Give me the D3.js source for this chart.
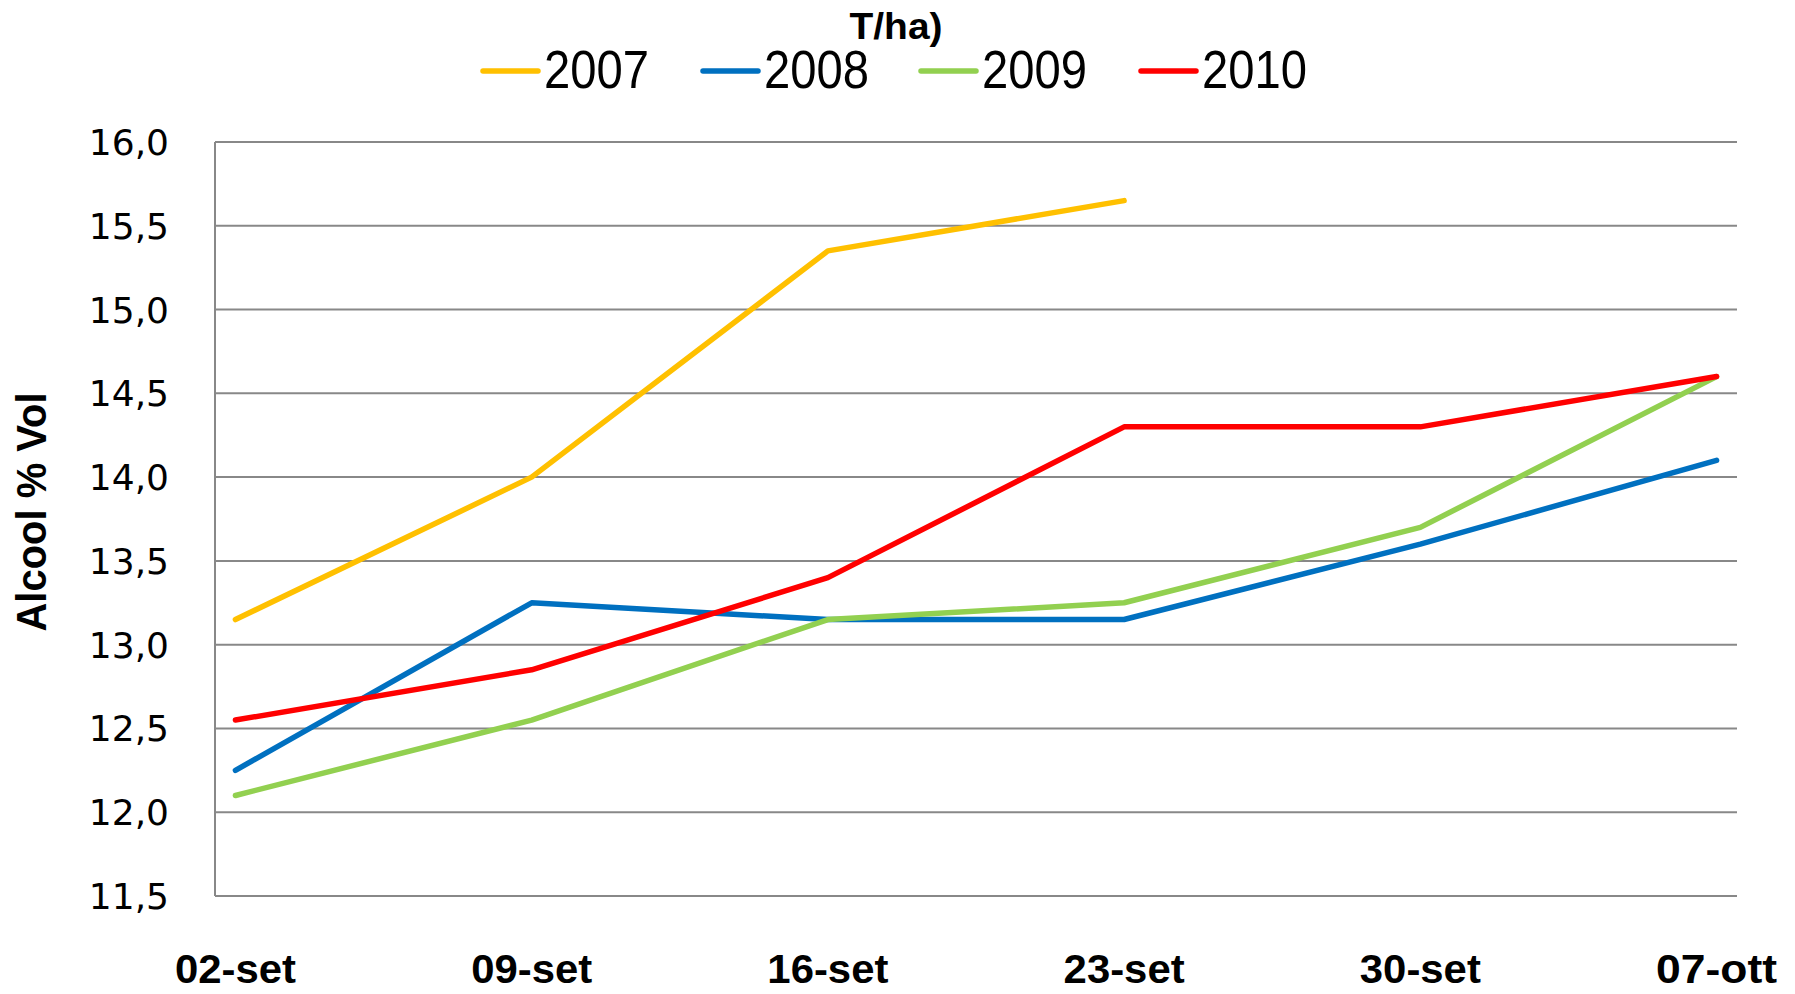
<!DOCTYPE html>
<html><head><meta charset="utf-8">
<script src="https://cdn.jsdelivr.net/npm/d3@7"></script>
<style>body{margin:0;background:#fff;} svg{display:block;}</style>
</head><body>
<script>
const categories = ["02-set","09-set","16-set","23-set","30-set","07-ott"];
const seriesNames = ["2007","2008","2009","2010"];
const seriesColors = ["#FFC000","#0070C0","#92D050","#FF0000"];
const v2007 = [13.15, 14.0, 15.35, 15.65, null, null];
const v2008 = [12.25, 13.25, 13.15, 13.15, 13.6, 14.1];
const v2009 = [12.1, 12.55, 13.15, 13.25, 13.7, 14.6];
const v2010 = [12.55, 12.85, 13.4, 14.3, 14.3, 14.6];
const yTicks = [11.5,12.0,12.5,13.0,13.5,14.0,14.5,15.0,15.5,16.0];
const titleText = "T/ha)";
const yTitle = "Alcool % Vol";

const W = 1795, H = 994;
const m = {left:215, right:1737, top:142, bottom:896};
const svg = d3.select("body").append("svg").attr("width",W).attr("height",H);

const x = d3.scalePoint().domain(categories).range([m.left, m.right]).padding(0.069);
const y = d3.scaleLinear().domain([11.5,16]).range([m.bottom, m.top]);

// gridlines
svg.append("g").selectAll("line").data(yTicks).join("line")
  .attr("x1",m.left).attr("x2",m.right)
  .attr("y1",d=>y(d)).attr("y2",d=>y(d))
  .attr("stroke","#888").attr("stroke-width",2);
// left axis line
svg.append("line").attr("x1",m.left).attr("x2",m.left).attr("y1",m.top).attr("y2",m.bottom)
  .attr("stroke","#888").attr("stroke-width",2);

// y tick labels
svg.append("g").selectAll("text").data(yTicks).join("text")
  .attr("x",169).attr("y",d=>y(d)).attr("dy","0.36em")
  .attr("text-anchor","end")
  .style("font-family","'DejaVu Sans', sans-serif").style("font-size","36px").attr("fill","#000")
  .text(d=>d3.format(".1f")(d).replace(".",","));

const narrow = "'Liberation Sans', Arial, sans-serif";
// x labels
svg.append("g").selectAll("text").data(categories).join("text")
  .attr("x",d=>x(d)).attr("y",983).attr("text-anchor","middle")
  .style("font-family",narrow)
  .style("font-weight","bold").style("font-size","40px").attr("fill","#000")
  .attr("textLength",121).attr("lengthAdjust","spacingAndGlyphs")
  .text(d=>d);

// y title
svg.append("text").attr("transform","translate(46,512) rotate(-90)")
  .attr("text-anchor","middle")
  .style("font-family",narrow)
  .style("font-weight","bold").style("font-size","42px")
  .attr("textLength",239).attr("lengthAdjust","spacingAndGlyphs")
  .text(yTitle);

// title
svg.append("text").attr("x",896).attr("y",39).attr("text-anchor","middle")
  .style("font-family",narrow)
  .style("font-weight","bold").style("font-size","37px")
  .attr("textLength",93).attr("lengthAdjust","spacingAndGlyphs")
  .text(titleText);

// lines
const allVals = [v2007,v2008,v2009,v2010];
const line = d3.line().defined(d=>d.v!=null).x(d=>x(d.c)).y(d=>y(d.v));
allVals.forEach((vals,i)=>{
  const data = categories.map((c,j)=>({c, v: vals[j]}));
  svg.append("path").datum(data).attr("d",line)
    .attr("fill","none").attr("stroke",seriesColors[i]).attr("stroke-width",5.5)
    .attr("stroke-linejoin","round").attr("stroke-linecap","round");
});

// legend
const legX = [483, 703, 921, 1141];
const lg = svg.append("g");
seriesNames.forEach((n,i)=>{
  lg.append("line").attr("x1",legX[i]).attr("x2",legX[i]+55).attr("y1",71).attr("y2",71)
    .attr("stroke",seriesColors[i]).attr("stroke-width",5.5).attr("stroke-linecap","round");
  lg.append("text").attr("x",legX[i]+61).attr("y",88)
    .style("font-family",narrow)
    .style("font-size","53px")
    .attr("textLength",105).attr("lengthAdjust","spacingAndGlyphs")
    .text(n);
});
</script>
</body></html>
